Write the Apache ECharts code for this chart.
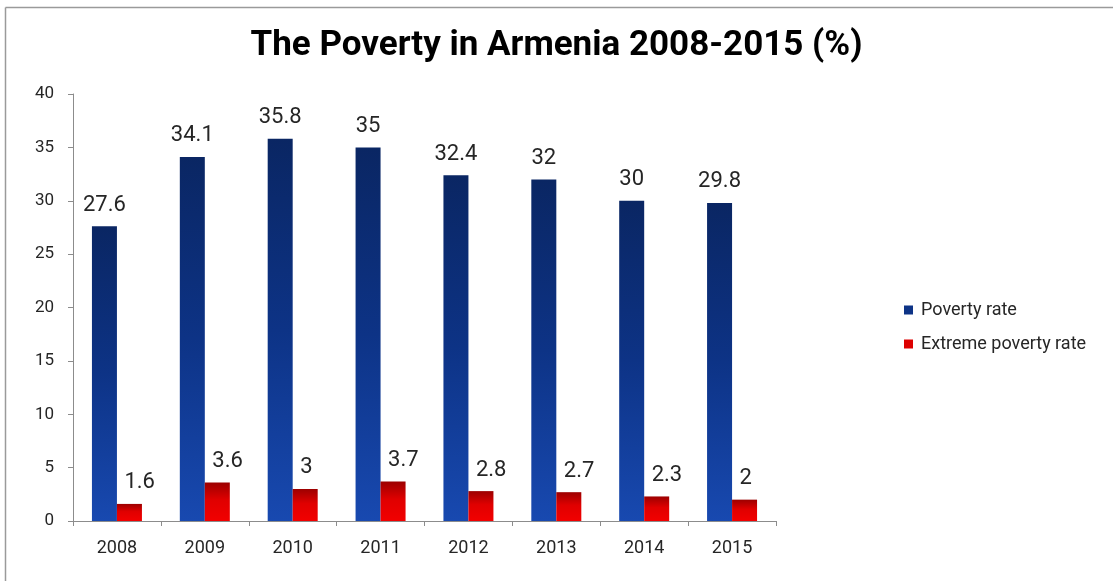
<!DOCTYPE html>
<html>
<head>
<meta charset="utf-8">
<script src="https://cdn.jsdelivr.net/npm/echarts@6/dist/echarts.min.js"></script>
<style>
  html, body { margin: 0; padding: 0; background: #fff; }
  #chart { width: 1113px; height: 581px; }
</style>
</head>
<body>
<div id="chart"></div>
<script>
// Poverty indicators for Armenia, percent of population
const years = ['2008', '2009', '2010', '2011', '2012', '2013', '2014', '2015'];
const povertyRate = [27.6, 34.1, 35.8, 35, 32.4, 32, 30, 29.8];
const extremePovertyRate = [1.6, 3.6, 3, 3.7, 2.8, 2.7, 2.3, 2];
const yTicks = [0, 5, 10, 15, 20, 25, 30, 35, 40];

const chart = echarts.init(document.getElementById('chart'), null, { renderer: 'canvas' });

// Vertical shading: dark at the top of each bar, brighter towards the base
const blueFill = new echarts.graphic.LinearGradient(0, 0, 0, 1, [
  { offset: 0, color: '#0a2663' },
  { offset: 0.5, color: '#0d3386' },
  { offset: 1, color: '#1849b0' }
]);
const redFill = new echarts.graphic.LinearGradient(0, 0, 0, 1, [
  { offset: 0, color: '#9c0000' },
  { offset: 0.45, color: '#e00000' },
  { offset: 1, color: '#f20000' }
]);

const labelBase = {
  show: true,
  position: 'top',
  distance: 10,
  color: '#262626',
  fontFamily: 'Roboto',
  fontSize: 22
};

chart.setOption({
  animation: false,
  backgroundColor: '#fff',
  graphic: [
    { type: 'line', shape: { x1: 5.5, y1: 7.5, x2: 1113, y2: 7.5 }, style: { stroke: '#9a9a9a', lineWidth: 1.5 } },
    { type: 'line', shape: { x1: 5.5, y1: 7.5, x2: 5.5, y2: 581 }, style: { stroke: '#9a9a9a', lineWidth: 1.5 } }
  ],
  title: {
    text: 'The Poverty in Armenia 2008-2015 (%)',
    left: 'center',
    top: 24,
    textStyle: {
      fontFamily: 'Roboto',
      fontWeight: 'bold',
      fontSize: 35,
      color: '#000'
    }
  },
  legend: {
    orient: 'vertical',
    left: 899,
    top: 296,
    itemWidth: 9,
    itemHeight: 9,
    itemGap: 16,
    icon: 'rect',
    textStyle: { fontFamily: 'Roboto', fontSize: 18, color: '#262626', padding: [0, 0, 0, 3] },
    data: [
      { name: 'Poverty rate', itemStyle: { color: '#0d3386' } },
      { name: 'Extreme poverty rate', itemStyle: { color: '#dd0000' } }
    ]
  },
  grid: { left: 73, right: 337, top: 94, bottom: 60 },
  xAxis: {
    type: 'category',
    data: years,
    axisLine: { lineStyle: { color: '#8c8c8c', width: 1 } },
    axisTick: { show: true, length: 5, lineStyle: { color: '#8c8c8c' } },
    axisLabel: { color: '#262626', fontFamily: 'Roboto', fontSize: 18, margin: 18 }
  },
  yAxis: {
    type: 'value',
    min: yTicks[0],
    max: yTicks[yTicks.length - 1],
    interval: yTicks[1] - yTicks[0],
    axisLine: { show: true, lineStyle: { color: '#8c8c8c', width: 1 } },
    axisTick: { show: true, length: 5, lineStyle: { color: '#8c8c8c' } },
    splitLine: { show: false },
    axisLabel: { color: '#262626', fontFamily: 'Roboto', fontSize: 17, margin: 19 }
  },
  series: [
    {
      name: 'Poverty rate',
      type: 'bar',
      data: povertyRate,
      barWidth: 25,
      barGap: '0%',
      itemStyle: { color: blueFill },
      label: labelBase
    },
    {
      name: 'Extreme poverty rate',
      type: 'bar',
      data: extremePovertyRate,
      barWidth: 25,
      barGap: '0%',
      itemStyle: { color: redFill },
      label: Object.assign({}, labelBase, { align: 'left', offset: [-5, 0] })
    }
  ]
});
</script>
</body>
</html>
